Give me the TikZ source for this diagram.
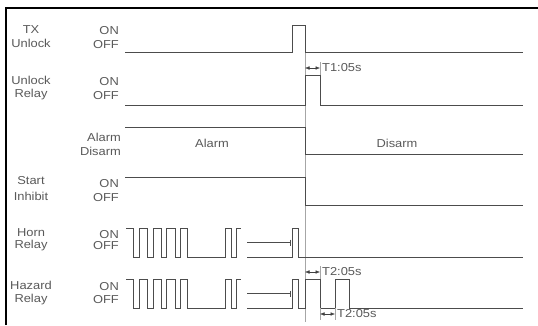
\documentclass[tikz,border=0pt]{standalone}
\usepackage{fontspec}
\newfontfamily\lblfont[FakeStretch=1.12]{Liberation Sans}
\usetikzlibrary{arrows.meta}
\begin{document}
\begin{tikzpicture}[x=1pt,y=-1pt,
  sig/.style={line width=0.6pt,black!70},
  guide/.style={line width=0.4pt,black!35},
  lbl/.style={font=\lblfont\fontsize{11.5}{12}\selectfont,text=black!65,inner sep=0pt},
  dim/.style={line width=0.5pt,black!75,{Latex[length=4.5pt,width=3.6pt]}-{Latex[length=4.5pt,width=3.6pt]}}]
\useasboundingbox (0,0) rectangle (538,325);
% frame
\draw[line width=1.8pt] (6,325) -- (6,8) -- (538,8);
% names
\node[lbl] (txa) at (31,30) {TX};
\node[lbl] (txb) at (31,43) {Unlock};
\node[lbl] (ura) at (31,80) {Unlock};
\node[lbl] (urb) at (31,95) {Relay};
\node[lbl] (sia) at (31,181) {Start};
\node[lbl] (sib) at (31,196) {Inhibit};
\node[lbl] (hra) at (31,233) {Horn};
\node[lbl] (hrb) at (31,246) {Relay};
\node[lbl] (hza) at (31,285) {Hazard};
\node[lbl] (hzb) at (31,300) {Relay};
% states
\node[lbl,anchor=east] (txon) at (119,31) {ON};
\node[lbl,anchor=east] (txoff) at (119,45) {OFF};
\node[lbl,anchor=east] (uron) at (119,82) {ON};
\node[lbl,anchor=east] (uroff) at (119,96) {OFF};
\node[lbl,anchor=east] (ala) at (121,137) {Alarm};
\node[lbl,anchor=east] (alb) at (121,151) {Disarm};
\node[lbl,anchor=east] (sion) at (119,184) {ON};
\node[lbl,anchor=east] (sioff) at (119,198) {OFF};
\node[lbl,anchor=east] (hron) at (119,235) {ON};
\node[lbl,anchor=east] (hroff) at (119,246) {OFF};
\node[lbl,anchor=east] (hzon) at (119,287) {ON};
\node[lbl,anchor=east] (hzoff) at (119,300) {OFF};
\node[lbl] (alarm) at (212,143) {Alarm};
\node[lbl] (disarm) at (397,143) {Disarm};
% guide line
\draw[guide] (305,52) -- (305,322);
% TX unlock
\draw[sig] (125,52) -- (292,52) -- (292,25) -- (305,25) -- (305,52) -- (523,52);
% unlock relay
\draw[sig] (125,105) -- (305,105) -- (305,75) -- (320,75) -- (320,105) -- (523,105);
\draw[guide] (320,62) -- (320,75);
\draw[dim] (305,68) -- (320,68);
\node[lbl,anchor=west] (tone) at (322,68) {T1:05s};
% alarm / disarm
\draw[sig] (125,127) -- (305,127) -- (305,154) -- (523,154);
% start inhibit
\draw[sig] (125,177) -- (305,177) -- (305,205) -- (523,205);
% horn and hazard pulse trains
\foreach \t/\b in {228/257,279/308}{
  \draw[sig] (126,\t) -- (133,\t) -- (133,\b) -- (139,\b) -- (139,\t) -- (147,\t)
    -- (147,\b) -- (153,\b) -- (153,\t) -- (161,\t) -- (161,\b) -- (166,\b)
    -- (166,\t) -- (175,\t) -- (175,\b) -- (180,\b) -- (180,\t) -- (187,\t)
    -- (187,\b) -- (225,\b) -- (225,\t) -- (231,\t) -- (231,\b) -- (236,\b)
    -- (236,\t) -- (241,\t);
  \draw[sig] (247,\t/2+\b/2) -- (290,\t/2+\b/2);
  \draw[sig] (290,\t/2+\b/2-3) -- (290,\t/2+\b/2+3);
  \draw[sig] (247,\b) -- (292,\b) -- (292,\t) -- (298,\t) -- (298,\b);
}
\draw[sig] (298,257) -- (523,257);
\draw[sig] (298,308) -- (305,308) -- (305,279) -- (320,279) -- (320,308)
  -- (335,308) -- (335,279) -- (349,279) -- (349,308) -- (523,308);
% T2 marks
\draw[guide] (320,266) -- (320,279);
\draw[dim] (305,272) -- (320,272);
\node[lbl,anchor=west] (ttwoa) at (322,272) {T2:05s};
\draw[guide] (320,308) -- (320,320);
\draw[guide] (335,308) -- (335,320);
\draw[dim] (320,314) -- (335,314);
\node[lbl,anchor=west] (ttwob) at (337,314) {T2:05s};
\end{tikzpicture}
\end{document}
